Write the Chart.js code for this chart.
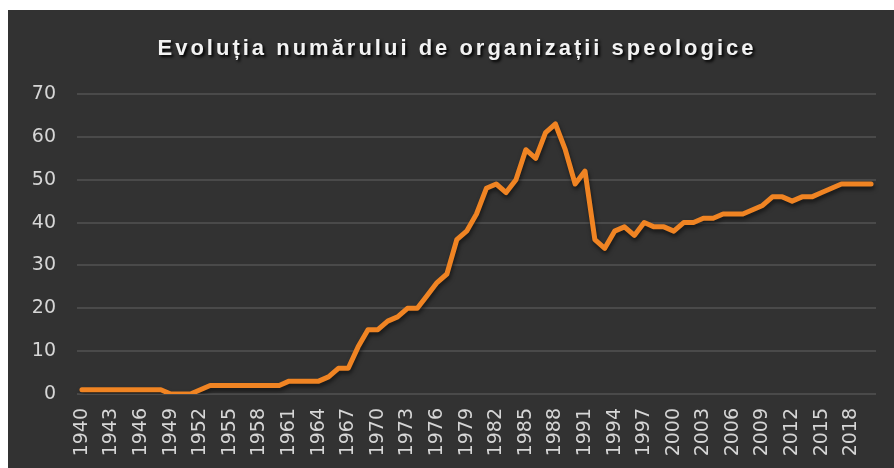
<!DOCTYPE html>
<html>
<head>
<meta charset="utf-8">
<script src="https://cdn.jsdelivr.net/npm/chart.js@4.4.1/dist/chart.umd.min.js"></script>
<style>
  html, body { margin: 0; padding: 0; background: #ffffff; }
  #wrap { position: absolute; left: 8px; top: 10px; width: 886px; height: 458px; background: #323232; overflow: hidden; }
  #title { position: absolute; left: 0; width: 898px; top: 25px; text-align: center;
    font-family: "Liberation Sans", Arial, sans-serif; font-weight: bold; font-size: 22px;
    letter-spacing: 3px; color: #f2f2f2; text-shadow: 2px 2px 3px #000; }
  canvas { position: absolute; left: 0; top: 0; }
</style>
</head>
<body>
<div id="wrap">
  <canvas id="c" width="886" height="458"></canvas>
  <div id="title">Evoluția numărului de organizații speologice</div>
</div>
<script>
const years = [];
for (let y = 1940; y <= 2020; y++) years.push(String(y));

const organizations = [
  1, 1, 1, 1, 1, 1, 1, 1, 1, 0,   // 1940-1949
  0, 0, 1, 2, 2, 2, 2, 2, 2, 2,   // 1950-1959
  2, 3, 3, 3, 3, 4, 6, 6, 11, 15, // 1960-1969
  15, 17, 18, 20, 20, 23, 26, 28, 36, 38, // 1970-1979
  42, 48, 49, 47, 50, 57, 55, 61, 63, 57, // 1980-1989
  49, 52, 36, 34, 38, 39, 37, 40, 39, 39, // 1990-1999
  38, 40, 40, 41, 41, 42, 42, 42, 43, 44, // 2000-2009
  46, 46, 45, 46, 46, 47, 48, 49, 49, 49, // 2010-2019
  49                                      // 2020
];

const yTicks = [0, 10, 20, 30, 40, 50, 60, 70];

const shadowPlugin = {
  id: 'lineShadow',
  beforeDatasetDraw(chart) {
    const ctx = chart.ctx;
    ctx.save();
    ctx.shadowColor = 'rgba(0,0,0,0.55)';
    ctx.shadowBlur = 4;
    ctx.shadowOffsetX = 1;
    ctx.shadowOffsetY = 3;
  },
  afterDatasetDraw(chart) {
    chart.ctx.restore();
  }
};

new Chart(document.getElementById('c'), {
  type: 'line',
  data: {
    labels: years,
    datasets: [{
      data: organizations,
      borderColor: '#F08423',
      borderWidth: 5,
      pointRadius: 0,
      tension: 0,
      borderJoinStyle: 'round',
      borderCapStyle: 'round',
      fill: false
    }]
  },
  options: {
    responsive: false,
    animation: false,
    layout: { padding: { top: 84, right: 18, left: 0, bottom: 0 } },
    plugins: { legend: { display: false }, tooltip: { enabled: false }, title: { display: false } },
    scales: {
      x: {
        type: 'category',
        offset: true,
        grid: { display: false, drawTicks: false },
        border: { display: false },
        afterFit(scale) { scale.height = 74; scale.paddingLeft = 0; scale.paddingRight = 0; },
        ticks: {
          autoSkip: false,
          maxRotation: 90,
          minRotation: 90,
          padding: 14,
          color: '#d6d6d6',
          font: { family: 'DejaVu Sans', size: 19 },
          callback(value, index) { return index % 3 === 0 ? years[index] : ''; }
        }
      },
      y: {
        min: 0,
        max: 70,
        afterFit(scale) { scale.width = 69; scale.paddingTop = 0; scale.paddingBottom = 0; },
        afterBuildTicks(scale) { scale.ticks = yTicks.map(v => ({ value: v })); },
        grid: { color: '#4a4a4a', lineWidth: 2, drawTicks: false },
        border: { display: false },
        ticks: {
          padding: 21,
          color: '#d6d6d6',
          font: { family: 'DejaVu Sans', size: 19 }
        }
      }
    }
  },
  plugins: [shadowPlugin]
});
</script>
</body>
</html>
